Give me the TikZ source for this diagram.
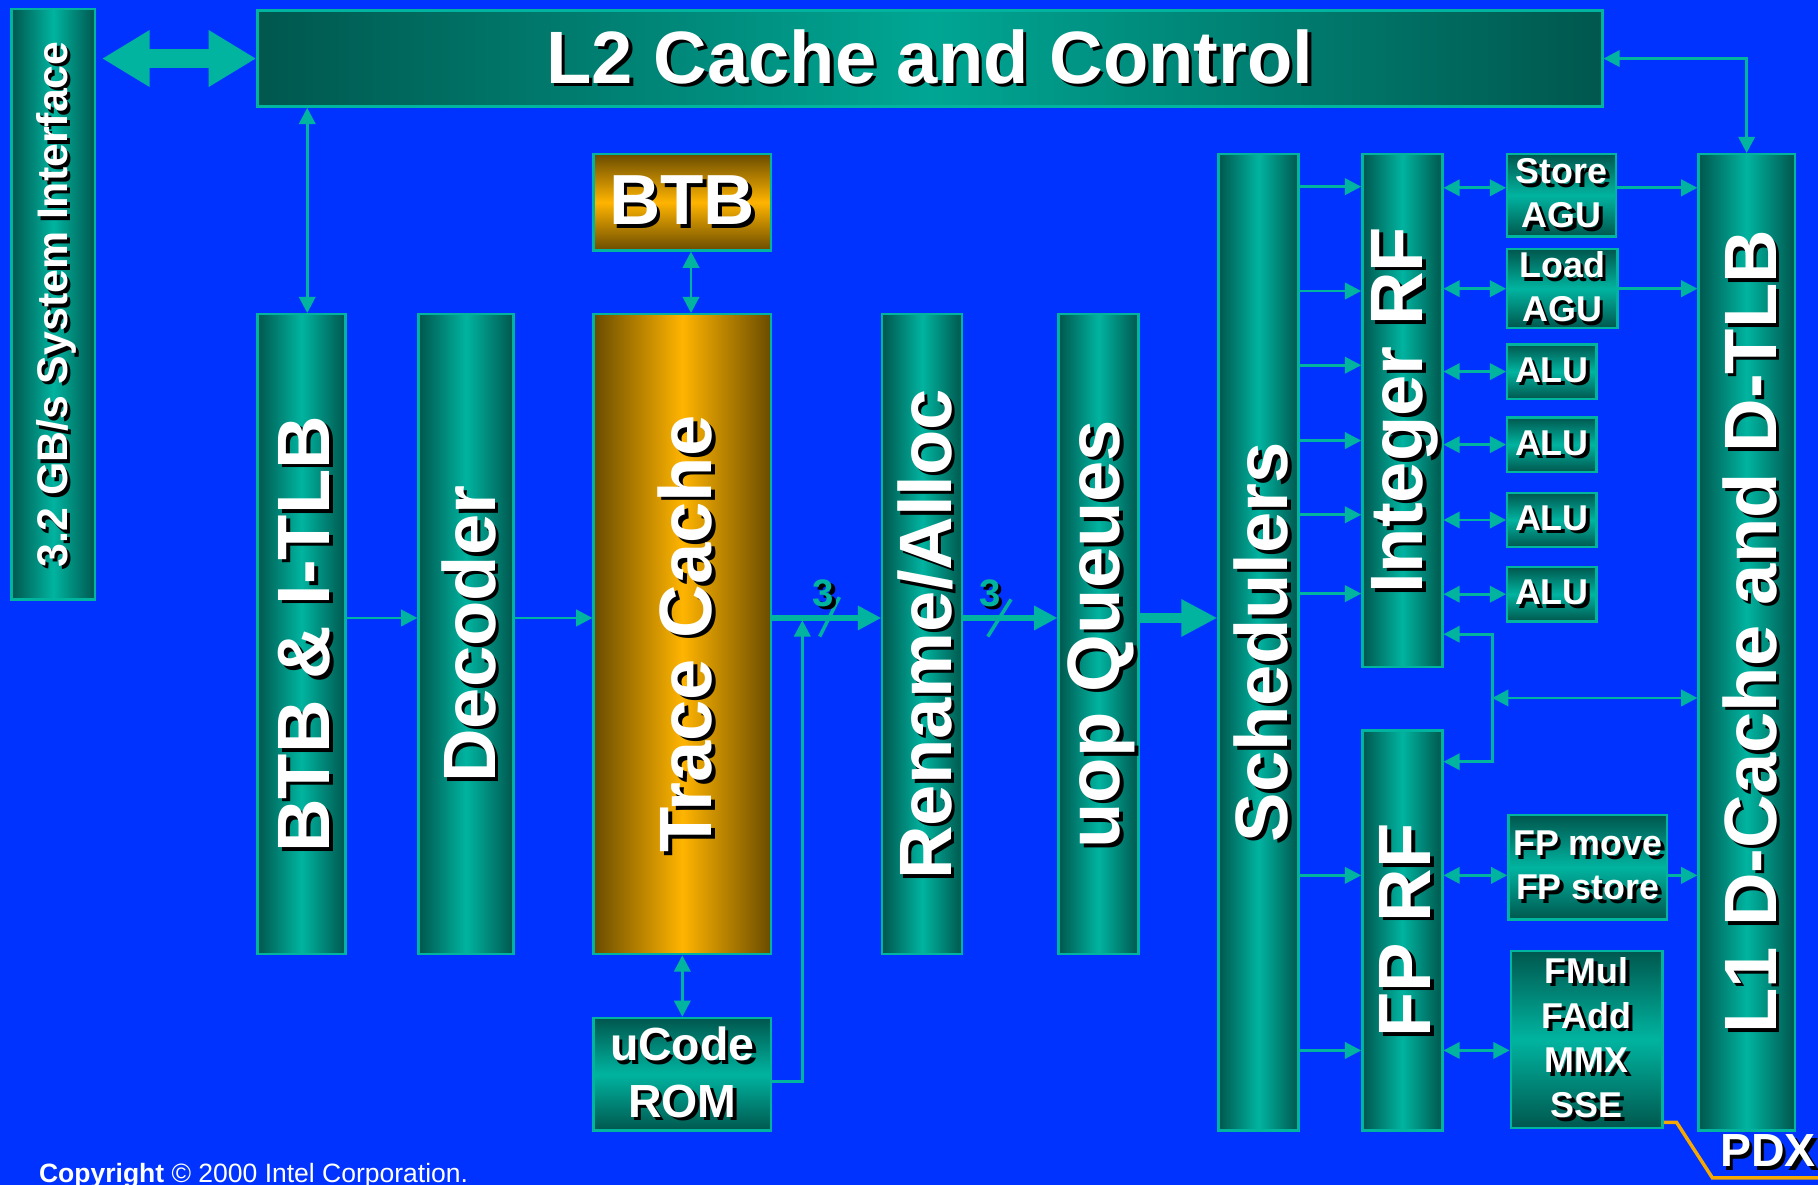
\documentclass[tikz,border=0pt]{standalone}
\usepackage{fontspec}
\setmainfont{Liberation Sans}
\usetikzlibrary{arrows.meta}

\definecolor{bg}{HTML}{0033FF}
\definecolor{tealbr}{HTML}{00B4A0}
\definecolor{tealdk}{HTML}{00574E}
\definecolor{gold}{HTML}{FFB400}
\definecolor{golddk}{HTML}{6A4C00}
\definecolor{pdxline}{HTML}{F5A800}

% white label with a black drop shadow (plain and rotated)
\newcommand{\sh}[1]{\makebox[0pt][l]{\kern0.03cm\raisebox{-0.03cm}{\color{black}#1}}#1}
\newcommand{\rsh}[1]{\rotatebox{90}{\raisebox{0pt}[\dimexpr\height+0.08cm\relax][\depth]{%
  \makebox[0pt][l]{\kern-0.03cm\raisebox{-0.03cm}{\color{black}#1}}#1}}}
\newcommand{\lblbig}{\fontsize{18.2}{20}\selectfont}

\tikzset{
  area/.style n args={4}{at={({(#1+#3)/2},{(#2+#4)/2})},
    minimum width={(#3-#1)*0.01cm}, minimum height={(#4-#2)*0.01cm}},
  blk/.style={draw=tealbr, line width=0.02cm, inner sep=0pt, text=white, font=\bfseries},
  vbar/.style={blk, left color=tealdk, right color=tealdk, middle color=tealbr},
  hbox/.style={blk, top color=tealdk, bottom color=tealdk, middle color=tealbr,
    align=center, font=\fontsize{8.8}{10.8}\selectfont\bfseries},
  gbar/.style={blk, left color=golddk, right color=golddk, middle color=gold},
  gbox/.style={blk, top color=golddk, bottom color=golddk, middle color=gold},
  link/.style={tealbr, line width=0.025cm, -{Triangle[length=0.14cm,width=0.14cm]}},
  both/.style={link, {Triangle[length=0.14cm,width=0.14cm]}-{Triangle[length=0.14cm,width=0.14cm]}},
  fat/.style={tealbr, line width=0.045cm, -{Triangle[length=0.2cm,width=0.2cm]}},
  wide/.style={tealbr, line width=0.09cm, -{Triangle[length=0.31cm,width=0.3cm]}},
  sysbus/.style={tealbr, line width=0.16cm,
    {Triangle[length=0.41cm,width=0.46cm]}-{Triangle[length=0.41cm,width=0.46cm]}},
  slash/.style={tealbr, line width=0.03cm},
  num/.style={text=tealbr, font=\fontsize{9.4}{10}\selectfont\bfseries, inner sep=0pt},
}

\begin{document}
\begin{tikzpicture}[x=0.01cm,y=-0.01cm]
\fill[bg] (0,0) rectangle (1568,1022);
\useasboundingbox (0,0) rectangle (1568,1022);

% memory side
\node[vbar, area={10}{8}{82}{517}] (sysif) {\fontsize{10.5}{12}\selectfont\rsh{3.2 GB/s System Interface}};
\node[vbar, area={222}{9}{1382}{92}, middle color=tealbr!85!tealdk] (l2) {\lblbig\sh{L2 Cache and Control}};

% front end
\node[vbar, area={222}{271}{298}{823}] (itlb) {\lblbig\rsh{BTB \& I-TLB}};
\node[vbar, area={361}{271}{443}{823}] (dec) {\lblbig\rsh{Decoder}};
\node[gbox, area={512}{133}{665}{216}] (btb) {\fontsize{17.4}{19}\selectfont\sh{BTB}};
\node[gbar, area={512}{271}{665}{823}] (tc) {\lblbig\rsh{Trace Cache}};
\node[hbox, area={512}{878}{665}{975}, font=\fontsize{11.4}{13.9}\selectfont\bfseries] (ucode) {\sh{uCode}\\\sh{ROM}};
\node[vbar, area={761}{271}{830}{823}] (ren) {\lblbig\rsh{Rename/Alloc}};
\node[vbar, area={913}{271}{982}{823}] (uopq) {\lblbig\rsh{uop Queues}};

% execution
\node[vbar, area={1051}{133}{1120}{975}] (sched) {\lblbig\rsh{Schedulers}};
\node[vbar, area={1175}{133}{1244}{575}] (irf) {\lblbig\rsh{Integer RF}};
\node[vbar, area={1175}{630}{1244}{975}] (fprf) {\lblbig\rsh{FP RF}};
\node[hbox, area={1300}{133}{1394}{204}] (sagu) {\sh{Store}\\\sh{AGU}};
\node[hbox, area={1300}{215}{1395}{283}] (lagu) {\sh{Load}\\\sh{AGU}};
\foreach \n/\y in {1/297, 2/360, 3/425, 4/489}
  \node[hbox, area={1300}{\y}{1377}{\y+47}] (alu\n) {\sh{ALU}};
\node[hbox, area={1301}{703}{1438}{793}] (fpmv) {\sh{FP move}\\\sh{FP store}};
\node[hbox, area={1303}{820}{1434}{973}, font=\fontsize{8.8}{11}\selectfont\bfseries] (fmul) {\sh{FMul}\\\sh{FAdd}\\\sh{MMX}\\\sh{SSE}};
\node[vbar, area={1465}{133}{1548}{975}] (l1) {\lblbig\rsh{\kern0.18cm L1 D-Cache and D-TLB}};

% buses to L2
\draw[sysbus] ([xshift=0.05cm]sysif.east |- l2.west) -- (l2.west);
\draw[both] (l2.south -| 265,0) -- (itlb.north -| 265,0);
\draw[both] (l2.east) -| (l1.north);

% front end flow
\draw[link] (itlb.east |- 0,533) -- (dec.west |- 0,533);
\draw[link] (dec.east |- 0,533) -- (tc.west |- 0,533);
\draw[both] (btb.south -| 596,0) -- (tc.north -| 596,0);
\draw[both] (tc.south) -- (ucode.north);
\draw[fat] (tc.east |- 0,533) -- (ren.west |- 0,533);
\draw[fat] (ren.east |- 0,533) -- (uopq.west |- 0,533);
\draw[wide] (uopq.east |- 0,533) -- (sched.west |- 0,533);
\coordinate (join) at (692,535);
\draw[link] (ucode.east |- 0,933) -| (join);

% 3 uops per clock
\draw[slash] (707,549) -- (724,515);
\node[num] (w1) at (710,513) {\sh{3}};
\draw[slash] (852,549) -- (872,517);
\node[num] (w2) at (854,513) {\sh{3}};

% dispatch
\foreach \y in {161, 251, 315, 380, 444, 512}
  \draw[link] (sched.east |- 0,\y) -- (irf.west |- 0,\y);
\foreach \y in {755, 906}
  \draw[link] (sched.east |- 0,\y) -- (fprf.west |- 0,\y);

% register files to units
\draw[both] (irf.east |- 0,162) -- (sagu.west |- 0,162);
\draw[both] (irf.east |- lagu.west) -- (lagu.west);
\foreach \n in {1,...,4}
  \draw[both] (irf.east |- alu\n.west) -- (alu\n.west);
\draw[link] (sagu.east |- 0,162) -- (l1.west |- 0,162);
\draw[link] (lagu.east) -- (l1.west |- lagu.east);
\draw[both] (fprf.east |- 0,755) -- (fpmv.west |- 0,755);
\draw[link] (fpmv.east |- 0,755) -- (l1.west |- 0,755);
\draw[both] (fprf.east |- 0,906) -- (fmul.west |- 0,906);

% load data back to both register files
\coordinate (brk) at (1287,602);
\draw[link] (brk) |- (irf.east |- 0,547);
\draw[link] (brk) |- (fprf.east |- 0,657);
\draw[both] (brk) -- (l1.west |- brk);

% logo and footer
\draw[pdxline, line width=0.03cm] (fmul.east |- 0,968) -- (1446,968) -- (1477,1016) -- (1568,1016);
\node[text=white, font=\fontsize{11.4}{12}\selectfont\bfseries, inner sep=0pt] (pdx) at (1525,994) {\sh{PDX}};
\node[anchor=base west, text=white, font=\fontsize{6.5}{8}\selectfont, inner sep=0pt] (copy) at (33,1020)
  {\textbf{Copyright} © 2000 Intel Corporation.};
\end{tikzpicture}
\end{document}
